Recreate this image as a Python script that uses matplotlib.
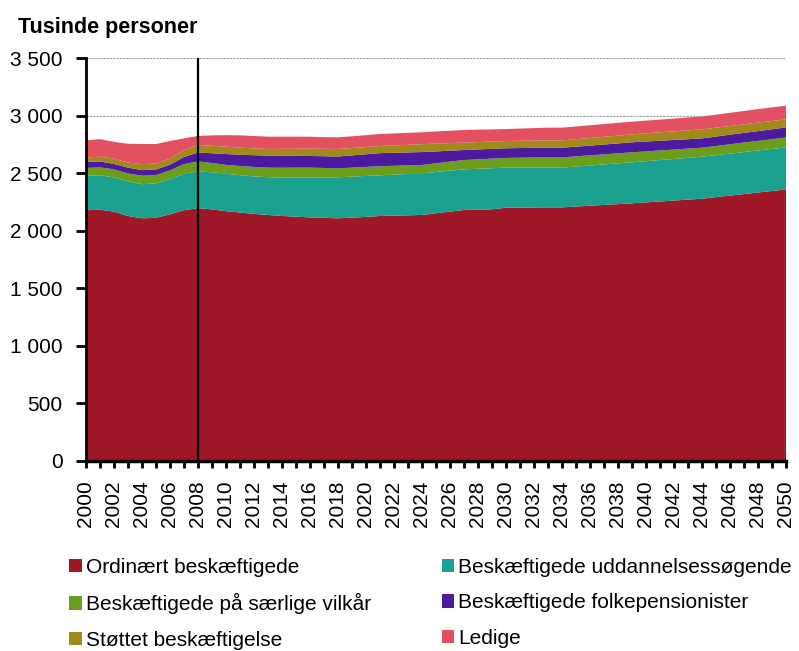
import matplotlib

matplotlib.use("Agg")
import matplotlib.pyplot as plt
from matplotlib.patches import Patch
from matplotlib.ticker import FuncFormatter, MultipleLocator

plt.rcParams["font.family"] = ["Liberation Sans", "DejaVu Sans"]

# --- Data (tusinde personer) ------------------------------------------------------------
years = list(range(2000, 2051))

ordinaert = [
    2178, 2182, 2166, 2128, 2108, 2112, 2143, 2178, 2196, 2185,
    2170, 2158, 2146, 2137, 2128, 2122, 2116, 2112, 2108, 2114,
    2120, 2128, 2131, 2134, 2137, 2152, 2166, 2180, 2183, 2186,
    2200, 2201, 2202, 2203, 2203, 2210, 2217, 2224, 2231, 2238,
    2246, 2254, 2262, 2270, 2278, 2292, 2305, 2318, 2332, 2345,
    2359,
]
uddannelse = [
    300, 300, 297, 300, 296, 298, 306, 316, 319, 322,
    325, 324, 326, 328, 334, 340, 345, 350, 356, 356,
    356, 353, 356, 359, 362, 358, 356, 353, 355, 357,
    348, 347, 346, 345, 345, 347, 349, 352, 354, 356,
    358, 360, 361, 363, 365, 364, 365, 365, 365, 365,
    364,
]
saerlige_vilkaar = [
    67, 68, 70, 70, 74, 74, 75, 84, 87, 81,
    77, 80, 82, 83, 85, 86, 87, 83, 78, 78,
    78, 79, 77, 74, 72, 75, 78, 81, 82, 83,
    84, 86, 88, 89, 89, 89, 89, 87, 87, 87,
    85, 83, 82, 80, 78, 80, 81, 83, 83, 85,
    87,
]
folkepension = [
    51, 52, 47, 50, 48, 48, 50, 62, 77, 85,
    94, 98, 102, 105, 104, 102, 101, 102, 103, 106,
    110, 114, 113, 113, 112, 104, 95, 87, 86, 85,
    84, 84, 84, 84, 84, 84, 84, 86, 86, 87,
    86, 85, 83, 82, 81, 82, 83, 84, 85, 86,
    87,
]
stoettet = [
    40, 41, 46, 44, 52, 52, 52, 60, 66, 65,
    64, 62, 59, 57, 60, 62, 64, 64, 65, 64,
    63, 62, 64, 66, 69, 67, 66, 64, 64, 63,
    63, 63, 63, 63, 63, 65, 66, 67, 68, 69,
    71, 73, 75, 77, 78, 77, 76, 74, 74, 72,
    70,
]
ledige = [
    148, 152, 146, 163, 175, 169, 153, 102, 78, 90,
    100, 106, 107, 107, 106, 105, 103, 102, 101, 102,
    103, 104, 104, 104, 103, 106, 107, 110, 108, 106,
    104, 106, 108, 111, 111, 110, 111, 110, 111, 110,
    110, 110, 111, 112, 112, 113, 114, 116, 117, 118,
    119,
]

labels = [
    "Ordinært beskæftigede",
    "Beskæftigede uddannelsessøgende",
    "Beskæftigede på særlige vilkår",
    "Beskæftigede folkepensionister",
    "Støttet beskæftigelse",
    "Ledige",
]
colors = ["#9E1828", "#1AA08F", "#6C9E1C", "#4B1A9F", "#A08B1A", "#E35062"]

forecast_start = 2008

# --- Figure --------------------------------------------------------------------------------
fig = plt.figure(figsize=(7.99, 6.51), dpi=100)
ax = fig.add_axes([86 / 799, 1 - 461 / 651, 700 / 799, 403 / 651])

ax.stackplot(years, ordinaert, uddannelse, saerlige_vilkaar, folkepension, stoettet, ledige,
             colors=colors, linewidth=0, zorder=2)
ax.axvline(forecast_start, color="black", lw=1.6, zorder=3)

ax.set_xlim(2000, 2050)
ax.set_ylim(0, 3500)
ax.yaxis.set_major_locator(MultipleLocator(500))
ax.yaxis.set_major_formatter(FuncFormatter(lambda v, _: f"{int(v):,}".replace(",", " ")))
ax.xaxis.set_major_locator(MultipleLocator(2))
ax.xaxis.set_minor_locator(MultipleLocator(1))
ax.xaxis.set_major_formatter(FuncFormatter(lambda v, _: f"{int(v)}"))

ax.grid(axis="y", color="#999999", lw=0.8, ls=(0, (2, 1)), zorder=0)
ax.set_axisbelow(True)

for side in ["top", "right"]:
    ax.spines[side].set_visible(False)
ax.spines["left"].set_linewidth(2.0)
ax.spines["bottom"].set_linewidth(2.5)
ax.spines["left"].set_zorder(4)
ax.spines["bottom"].set_zorder(4)

ax.tick_params(axis="y", direction="out", length=7, width=2, labelsize=15, pad=10)
ax.tick_params(axis="x", which="both", direction="out", length=5, width=2,
               labelsize=15, labelrotation=90, pad=9)

fig.text(18 / 799, 1 - 28 / 651, "Tusinde personer", fontsize=15.5, fontweight="bold",
         va="center", ha="left")

# legend: left column red/green/olive, right column teal/purple/pink
order = [0, 2, 4, 1, 3, 5]
handles = [Patch(facecolor=colors[i], edgecolor="none") for i in order]
fig.legend(handles, [labels[i] for i in order], ncol=2, frameon=False,
           loc="upper left", bbox_to_anchor=(69 / 799, 1 - 558 / 651),
           fontsize=15, handlelength=0.6, handleheight=0.6, handletextpad=0.2,
           columnspacing=3.4, labelspacing=0.78, borderaxespad=0, borderpad=0)

fig.savefig("out.png", dpi=100, facecolor="white")
